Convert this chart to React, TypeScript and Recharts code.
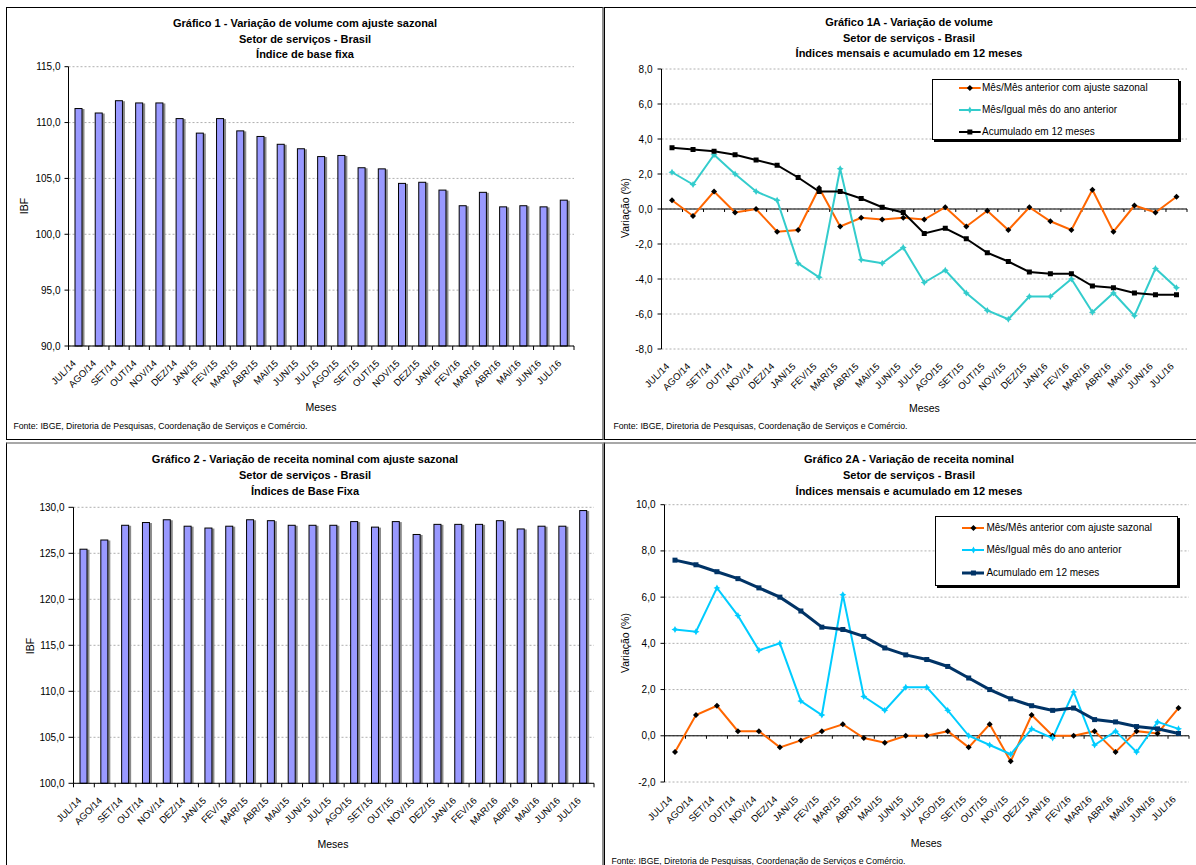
import React from 'react';
import { BarChart, Bar, LineChart, Line, XAxis, YAxis, CartesianGrid, ReferenceLine, Legend } from 'recharts';

const months = ['JUL/14','AGO/14','SET/14','OUT/14','NOV/14','DEZ/14','JAN/15','FEV/15','MAR/15','ABR/15','MAI/15','JUN/15','JUL/15','AGO/15','SET/15','OUT/15','NOV/15','DEZ/15','JAN/16','FEV/16','MAR/16','ABR/16','MAI/16','JUN/16','JUL/16'];

const volumeIndex = [111.3,110.9,112.0,111.8,111.8,110.4,109.1,110.4,109.3,108.8,108.1,107.7,107.0,107.1,106.0,105.9,104.6,104.7,104.0,102.6,103.8,102.5,102.6,102.5,103.1];
const revenueIndex = [125.5,126.5,128.1,128.4,128.7,128.0,127.8,128.0,128.7,128.6,128.1,128.1,128.1,128.5,127.9,128.5,127.1,128.2,128.2,128.2,128.6,127.7,128.0,128.0,129.7];

const volMoM = [0.5,-0.4,1.0,-0.2,0.0,-1.3,-1.2,1.2,-1.0,-0.5,-0.6,-0.5,-0.6,0.1,-1.0,-0.1,-1.2,0.1,-0.7,-1.2,1.1,-1.3,0.2,-0.2,0.7];
const volYoY = [2.1,1.4,3.1,2.0,1.0,0.5,-3.1,-3.9,2.3,-2.9,-3.1,-2.2,-4.2,-3.5,-4.8,-5.8,-6.3,-5.0,-5.0,-4.0,-5.9,-4.8,-6.1,-3.4,-4.5];
const vol12m = [3.5,3.4,3.3,3.1,2.8,2.5,1.8,1.0,1.0,0.6,0.1,-0.2,-1.4,-1.1,-1.7,-2.5,-3.0,-3.6,-3.7,-3.7,-4.4,-4.5,-4.8,-4.9,-4.9];

const revMoM = [-0.7,0.9,1.3,0.2,0.2,-0.5,-0.2,0.2,0.5,-0.1,-0.3,0.0,0.0,0.2,-0.5,0.5,-1.1,0.9,0.0,0.0,0.2,-0.7,0.2,0.1,1.2];
const revYoY = [4.6,4.5,6.4,5.2,3.7,4.0,1.5,0.9,6.1,1.7,1.1,2.1,2.1,1.1,0.0,-0.4,-0.8,0.3,-0.1,1.9,-0.4,0.2,-0.7,0.6,0.3];
const rev12m = [7.6,7.4,7.1,6.8,6.4,6.0,5.4,4.7,4.6,4.3,3.8,3.5,3.3,3.0,2.5,2.0,1.6,1.3,1.1,1.2,0.7,0.6,0.4,0.3,0.1];

const yTicksVol = [90, 95, 100, 105, 110, 115];
const yTicksRev = [100, 105, 110, 115, 120, 125, 130];
const yTicks1A = [-8, -6, -4, -2, 0, 2, 4, 6, 8];
const yTicks2A = [-2, 0, 2, 4, 6, 8, 10];

const seriesNames = ['Mês/Mês anterior com ajuste sazonal', 'Mês/Igual mês do ano anterior', 'Acumulado em 12 meses'];

const title1 = ['Gráfico 1 - Variação de volume com ajuste sazonal', 'Setor de serviços - Brasil', 'Índice de base fixa'];
const title1A = ['Gráfico 1A - Variação de volume', 'Setor de serviços - Brasil', 'Índices mensais e acumulado em 12 meses'];
const title2 = ['Gráfico 2 - Variação de receita nominal com ajuste sazonal', 'Setor de serviços - Brasil', 'Índices de Base Fixa'];
const title2A = ['Gráfico 2A - Variação de receita nominal', 'Setor de serviços - Brasil', 'Índices mensais e acumulado em 12 meses'];
const sourceText = 'Fonte: IBGE, Diretoria de Pesquisas, Coordenação de Serviços e Comércio.';

const FONT = "'Liberation Sans', Arial, Helvetica, sans-serif";
const ORANGE = '#FF6600';
const CYAN1 = '#33CCCC';
const CYAN2 = '#00CCFF';
const NAVY = '#003366';

const fmt = (v: number) => v.toFixed(1).replace('.', ',');

// numeric positions: category i is centred at i + 0.5, boundaries at integers
const monthTicks: number[] = [];
months.forEach((_, i) => { monthTicks.push(i, i + 0.5); });
monthTicks.push(months.length);
const boundaries = months.map((_, i) => i).concat([months.length]);

const barRows = (vals: number[]) => months.map((m, i) => ({ pos: i + 0.5, mes: m, v: vals[i] }));
const lineRows = (a: number[], b: number[], c: number[]) =>
  months.map((m, i) => ({ pos: i + 0.5, mes: m, mm: a[i], yy: b[i], acc: c[i] }));

const makeTick = (marks: boolean) => (props: any) => {
  const { x, y, payload } = props;
  const v = Number(payload.value);
  if (Number.isInteger(v)) {
    return marks ? <line x1={x} y1={y} x2={x} y2={y + 4} stroke="#000" strokeWidth={1} /> : <g />;
  }
  const label = months[Math.floor(v)];
  const ax = x - 2;
  const ay = y + 18;
  return (
    <text x={ax} y={ay} transform={`rotate(-45 ${ax} ${ay})`} textAnchor="end" fontSize={9.5} fontFamily={FONT} fill="#000">
      {label}
    </text>
  );
};

const BarShape = (p: any) => {
  const { x, y, width, height } = p;
  if (!height || height <= 0) return <g />;
  return (
    <g>
      <rect x={x + 2} y={y + 1} width={width} height={height - 1} fill="#8a8a8a" />
      <rect x={x + 0.5} y={y + 0.5} width={width - 1} height={height - 0.5} fill="#9999FF" stroke="#000" strokeWidth={1} />
    </g>
  );
};

const diamondPath = (cx: number, cy: number, s: number) => `M${cx},${cy - s}L${cx + s},${cy}L${cx},${cy + s}L${cx - s},${cy}Z`;
const starPath = (cx: number, cy: number, s: number) => {
  const t = s * 0.35;
  return `M${cx},${cy - s}L${cx + t},${cy - t}L${cx + s},${cy}L${cx + t},${cy + t}L${cx},${cy + s}L${cx - t},${cy + t}L${cx - s},${cy}L${cx - t},${cy - t}Z`;
};

const DiamondDot = (p: any) =>
  p.cx == null ? <g key={p.index} /> : <path key={p.index} d={diamondPath(p.cx, p.cy, 3)} fill="#000" />;
const makeStarDot = (color: string) => (p: any) =>
  p.cx == null ? <g key={p.index} /> : <path key={p.index} d={starPath(p.cx, p.cy, 3.5)} fill={color} />;
const makeSquareDot = (color: string) => (p: any) =>
  p.cx == null ? <g key={p.index} /> : <rect key={p.index} x={p.cx - 2.5} y={p.cy - 2.5} width={5} height={5} fill={color} />;

type LegendItem = { name: string; color: string; marker: 'diamond' | 'star' | 'square'; markerColor: string; width: number };

const LegendBox = (cfg: { items: LegendItem[]; w: number; h: number; rows: number[]; s0: number; s1: number; tx: number }) => (
  <div
    style={{
      position: 'relative', width: cfg.w, height: cfg.h, border: '1px solid #000', boxShadow: '2px 2px 0 #000',
      background: '#fff', boxSizing: 'border-box', fontFamily: FONT, fontSize: 10, color: '#000',
    }}
  >
    {cfg.items.map((it, i) => {
      const sw = cfg.s1 - cfg.s0;
      const mc = sw / 2;
      return (
        <div key={i} style={{ position: 'absolute', left: 0, top: cfg.rows[i] - 8, height: 16, width: '100%' }}>
          <svg style={{ position: 'absolute', left: cfg.s0, top: 0 }} width={sw} height={16}>
            <line x1={0} y1={8} x2={sw} y2={8} stroke={it.color} strokeWidth={it.width} />
            {it.marker === 'diamond' && <path d={diamondPath(mc, 8, 3)} fill={it.markerColor} />}
            {it.marker === 'star' && <path d={starPath(mc, 8, 3.5)} fill={it.markerColor} />}
            {it.marker === 'square' && <rect x={mc - 2.5} y={5.5} width={5} height={5} fill={it.markerColor} />}
          </svg>
          <span style={{ position: 'absolute', left: cfg.tx, top: 0, lineHeight: '16px', whiteSpace: 'nowrap' }}>{it.name}</span>
        </div>
      );
    })}
  </div>
);

const legend1A: LegendItem[] = [
  { name: seriesNames[0], color: ORANGE, marker: 'diamond', markerColor: '#000', width: 2 },
  { name: seriesNames[1], color: CYAN1, marker: 'star', markerColor: CYAN1, width: 2 },
  { name: seriesNames[2], color: '#000', marker: 'square', markerColor: '#000', width: 2 },
];
const legend2A: LegendItem[] = [
  { name: seriesNames[0], color: ORANGE, marker: 'diamond', markerColor: '#000', width: 2 },
  { name: seriesNames[1], color: CYAN2, marker: 'star', markerColor: CYAN2, width: 2 },
  { name: seriesNames[2], color: NAVY, marker: 'square', markerColor: NAVY, width: 3 },
];

const Txt = (p: { x: number; y: number; text: string; size: number; bold?: boolean; rotate?: number; anchor?: 'center' | 'left' }) => (
  <div
    style={{
      position: 'absolute', left: p.x, top: p.y,
      transform: `${p.anchor === 'left' ? 'translate(0,-50%)' : 'translate(-50%,-50%)'}${p.rotate ? ` rotate(${p.rotate}deg)` : ''}`,
      fontFamily: FONT, fontSize: p.size, fontWeight: p.bold ? 'bold' : 'normal', whiteSpace: 'nowrap', lineHeight: '14px', color: '#000',
    }}
  >
    {p.text}
  </div>
);

const Title = (p: { cx: number; ys: number[]; lines: string[] }) => (
  <>
    {p.lines.map((t, i) => <Txt key={i} x={p.cx} y={p.ys[i]} text={t} size={11} bold />)}
  </>
);

const gridProps = { vertical: false, stroke: '#b0b0b0', strokeDasharray: '2 2' };
const yTickStyle = { fontSize: 10, fill: '#000', fontFamily: FONT };

const BarPanel = (p: { vals: number[]; ticks: number[]; domain: [number, number]; w: number; h: number; margin: any; tickSize: number }) => (
  <BarChart width={p.w} height={p.h} data={barRows(p.vals)} margin={p.margin}>
    <CartesianGrid {...gridProps} />
    <XAxis
      type="number" dataKey="pos" domain={[0, months.length]} ticks={monthTicks} interval={0}
      tickLine={false} tickSize={0} tickMargin={0} height={40} axisLine={{ stroke: '#000' }} tick={makeTick(true)}
    />
    <YAxis
      type="number" domain={p.domain} ticks={p.ticks} interval={0} width={40} tickFormatter={fmt}
      axisLine={{ stroke: '#000' }} tickLine={{ stroke: '#000' }} tickSize={p.tickSize} tickMargin={4} tick={yTickStyle}
    />
    <Bar dataKey="v" barSize={8} shape={<BarShape />} isAnimationActive={false} />
  </BarChart>
);

const LinePanel = (p: {
  a: number[]; b: number[]; c: number[]; ticks: number[]; domain: [number, number]; w: number; h: number; margin: any;
  cyan: string; accColor: string; accWidth: number; legend: LegendItem[]; legendPos: any; tickLen: number;
}) => (
  <LineChart width={p.w} height={p.h} data={lineRows(p.a, p.b, p.c)} margin={p.margin}>
    <CartesianGrid {...gridProps} />
    <XAxis
      type="number" dataKey="pos" domain={[0, months.length]} ticks={monthTicks} interval={0}
      tickLine={false} tickSize={0} tickMargin={0} height={40} axisLine={false} tick={makeTick(false)}
    />
    <YAxis
      type="number" domain={p.domain} ticks={p.ticks} interval={0} width={40} tickFormatter={fmt}
      axisLine={{ stroke: '#000' }} tickLine={{ stroke: '#000' }} tickSize={4} tickMargin={5} tick={yTickStyle}
    />
    <ReferenceLine y={0} stroke="#000" strokeWidth={1} />
    {boundaries.map((k) => (
      <ReferenceLine key={k} segment={[{ x: k, y: 0 }, { x: k, y: -p.tickLen }]} stroke="#000" strokeWidth={1} />
    ))}
    <Legend
      layout="vertical" align="center" verticalAlign="middle"
      wrapperStyle={p.legendPos.style}
      content={() => <LegendBox items={p.legend} {...p.legendPos.box} />}
    />
    <Line type="linear" dataKey="mm" name={seriesNames[0]} stroke={ORANGE} strokeWidth={2} dot={DiamondDot} isAnimationActive={false} />
    <Line type="linear" dataKey="yy" name={seriesNames[1]} stroke={p.cyan} strokeWidth={2} dot={makeStarDot(p.cyan)} isAnimationActive={false} />
    <Line type="linear" dataKey="acc" name={seriesNames[2]} stroke={p.accColor} strokeWidth={p.accWidth} dot={makeSquareDot(p.accColor)} isAnimationActive={false} />
  </LineChart>
);

const Abs = (p: { x: number; y: number; children: React.ReactNode }) => (
  <div style={{ position: 'absolute', left: p.x, top: p.y }}>{p.children}</div>
);

export default function App() {
  return (
    <div style={{ position: 'absolute', left: 0, top: 0, width: 1196, height: 865, overflow: 'hidden', background: '#fff' }}>
      {/* panel frames */}
      <div style={{ position: 'absolute', left: 6, top: 7, width: 598, height: 433, boxSizing: 'border-box', borderLeft: '1px solid #000', borderTop: '1px solid #000', borderBottom: '1px solid #000', borderRight: '2px solid #8c8c8c' }} />
      <div style={{ position: 'absolute', left: 604, top: 7, width: 620, height: 433, boxSizing: 'border-box', border: '1px solid #000' }} />
      <div style={{ position: 'absolute', left: 6, top: 442, width: 598, height: 440, boxSizing: 'border-box', borderLeft: '1px solid #000', borderTop: '2px solid #a8a8a8', borderRight: '2px solid #8c8c8c' }} />
      <div style={{ position: 'absolute', left: 604, top: 442, width: 620, height: 440, boxSizing: 'border-box', borderLeft: '1px solid #000', borderTop: '2px solid #a8a8a8' }} />

      {/* Gráfico 1 */}
      <Abs x={6} y={7}>
        <BarPanel vals={volumeIndex} ticks={yTicksVol} domain={[90, 115]} w={596} h={432} margin={{ top: 59.7, right: 28, bottom: 53, left: 22.5 }} tickSize={4} />
      </Abs>
      <Title cx={305} ys={[23.3, 39, 54]} lines={title1} />
      <Txt x={23.8} y={206} text="IBF" size={10.5} rotate={-90} />
      <Txt x={321} y={407} text="Meses" size={10.5} />
      <Txt x={13.4} y={426} text={sourceText} size={8.7} anchor="left" />

      {/* Gráfico 1A */}
      <Abs x={604} y={7}>
        <LinePanel
          a={volMoM} b={volYoY} c={vol12m} ticks={yTicks1A} domain={[-8, 8]} w={592} h={432}
          margin={{ top: 62, right: 9, bottom: 50, left: 17.5 }} cyan={CYAN1} accColor="#000" accWidth={2} tickLen={0.17}
          legend={legend1A}
          legendPos={{ style: { left: 327.7, top: 72.3, width: 247, height: 61 }, box: { w: 247, h: 61, rows: [8, 30, 51.4], s0: 26.6, s1: 48.3, tx: 49.3 } }}
        />
      </Abs>
      <Title cx={909} ys={[22.3, 37.7, 53.3]} lines={title1A} />
      <Txt x={624.8} y={208} text="Variação (%)" size={10.5} rotate={-90} />
      <Txt x={924.4} y={408} text="Meses" size={10.5} />
      <Txt x={613.4} y={426} text={sourceText} size={8.7} anchor="left" />

      {/* Gráfico 2 */}
      <Abs x={6} y={443}>
        <BarPanel vals={revenueIndex} ticks={yTicksRev} domain={[100, 130]} w={596} h={422} margin={{ top: 64.3, right: 8, bottom: 41.7, left: 27.5 }} tickSize={5} />
      </Abs>
      <Title cx={305} ys={[459, 475, 490.7]} lines={title2} />
      <Txt x={30} y={646} text="IBF" size={10.5} rotate={-90} />
      <Txt x={333} y={844} text="Meses" size={10.5} />

      {/* Gráfico 2A */}
      <Abs x={604} y={443}>
        <LinePanel
          a={revMoM} b={revYoY} c={rev12m} ticks={yTicks2A} domain={[-2, 10]} w={592} h={422}
          margin={{ top: 61.7, right: 7, bottom: 43, left: 20.5 }} cyan={CYAN2} accColor={NAVY} accWidth={3} tickLen={0.13}
          legend={legend2A}
          legendPos={{ style: { left: 331, top: 72.7, width: 243, height: 70 }, box: { w: 243, h: 70, rows: [11, 33.3, 56.3], s0: 25.6, s1: 48.5, tx: 50.4 } }}
        />
      </Abs>
      <Title cx={909} ys={[459, 474.7, 490.7]} lines={title2A} />
      <Txt x={624.8} y={643} text="Variação (%)" size={10.5} rotate={-90} />
      <Txt x={926.3} y={843} text="Meses" size={10.5} />
      <Txt x={611.4} y={860.7} text={sourceText} size={8.7} anchor="left" />
    </div>
  );
}
